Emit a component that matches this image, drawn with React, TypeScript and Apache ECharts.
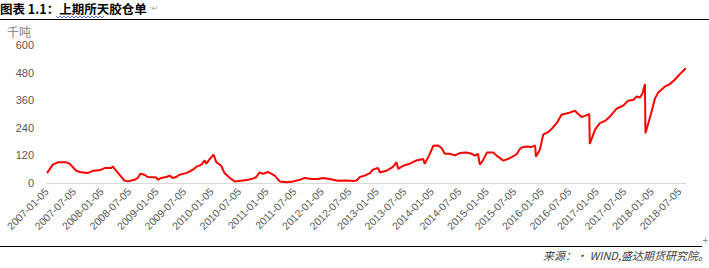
import React, { useEffect, useRef } from "react";
import * as echarts from "echarts";

const tickLabels = [
  "2007-01-05", "2007-07-05", "2008-01-05", "2008-07-05", "2009-01-05", "2009-07-05",
  "2010-01-05", "2010-07-05", "2011-01-05", "2011-07-05", "2012-01-05", "2012-07-05",
  "2013-01-05", "2013-07-05", "2014-01-05", "2014-07-05", "2015-01-05", "2015-07-05",
  "2016-01-05", "2016-07-05", "2017-01-05", "2017-07-05", "2018-01-05", "2018-07-05",
];

const yTicks = [0, 120, 240, 360, 480, 600];

// months elapsed since 2007-01-05
const monthOffsets = [
  0, 1.26, 2.36, 4.19, 4.92, 6.39, 7.12, 8.9, 10.0, 11.46, 12.56, 14.03, 14.34, 14.76, 15.81,
  16.86, 17.64, 19.11, 19.79, 20.36, 21.25, 21.99, 23.87, 24.18, 24.92, 26.02, 26.75, 27.43,
  28.16, 28.9, 30.36, 31.09, 31.83, 32.56, 33.71, 34.39, 34.76, 35.49, 36.33, 36.96, 38.0,
  38.74, 39.89, 40.94, 42.72, 43.87, 44.91, 45.65, 46.38, 47.11, 48.21, 49.68, 50.78, 52.24,
  53.71, 55.17, 56.22, 57.69, 59.15, 60.2, 61.66, 63.44, 65.33, 66.79, 67.53, 67.84, 68.26,
  69.31, 70.46, 71.09, 72.24, 72.61, 74.02, 75.48, 76.22, 76.64, 77.68, 79.15, 80.61, 82.08,
  82.39, 83.34, 84.28, 85.33, 86.06, 86.79, 87.84, 88.99, 90.04, 91.5, 92.65, 93.39, 94.01,
  94.43, 95.01, 96.0, 97.37, 98.1, 99.56, 100.98, 102.44, 103.12, 103.54, 104.59, 105.74,
  106.47, 106.68, 107.52, 108.25, 109.3, 110.14, 111.18, 112.23, 113.7, 115.16, 115.9, 116.63,
  117.36, 118.3, 118.41, 119.56, 120.61, 121.76, 122.8, 124.27, 125.74, 126.78, 127.94, 128.67,
  129.4, 129.93, 130.45, 130.55, 131.6, 132.65, 133.38, 134.85, 135.9, 136.94, 138.04, 139.35,
];

// 千吨
const warehouseReceipts = [
  43, 80, 90, 90, 84, 53, 48, 43, 53, 55, 65, 65, 72, 61, 36,
  11, 7, 14, 22, 40, 36, 26, 24, 14, 22, 26, 32, 22,
  26, 36, 43, 50, 58, 70, 80, 98, 84, 104, 123, 90, 75,
  43, 22, 7, 11, 14, 19, 26, 46, 40, 48, 32, 7, 3,
  7, 14, 22, 17, 17, 22, 17, 10, 11, 9, 11, 17, 26,
  32, 43, 58, 65, 46, 53, 70, 90, 61, 75, 84, 98, 104,
  84, 119, 162, 163, 152, 127, 127, 120, 130, 133, 127, 119, 127,
  80, 95, 133, 133, 119, 97, 108, 125, 147, 154, 159, 157,
  163, 115, 145, 210, 221, 236, 260, 297, 304, 314, 300, 287,
  292, 300, 170, 232, 260, 270, 289, 323, 337, 358, 362, 376,
  372, 391, 430, 216, 289, 368, 395, 420, 430, 449, 473, 499,
];

const titleText = "图表 1.1：上期所天胶仓单";
const paragraphMark = " ·↵";
const unitText = "千吨";
const sourceText = "来源：· WIND,盛达期货研究院。";

export default function App() {
  const ref = useRef<HTMLDivElement>(null);

  useEffect(() => {
    if (!ref.current) return;
    const chart = echarts.init(ref.current, null, { renderer: "svg" });
    const seriesData = monthOffsets.map((m, i) => [m, warehouseReceipts[i]]);
    const wave: number[][] = [];
    for (let x = 56; x <= 104; x += 2) wave.push([x, x % 4 === 0 ? 16 : 18]);

    chart.setOption({
      animation: false,
      backgroundColor: "#ffffff",
      grid: { left: 47, right: 23, top: 45, bottom: 85, containLabel: false },
      xAxis: {
        type: "value",
        min: 0,
        max: 139.4,
        interval: 6,
        axisLine: { show: true, lineStyle: { color: "#d9d9d9", width: 1 } },
        axisTick: { show: false },
        splitLine: { show: false },
        axisLabel: {
          rotate: 45,
          margin: 7,
          color: "#595959",
          fontFamily: "Liberation Sans",
          fontSize: 10.5,
          showMaxLabel: false,
          formatter: (v: number) => {
            const idx = Math.round(v / 6);
            return Math.abs(idx * 6 - v) < 1e-6 && tickLabels[idx] ? tickLabels[idx] : "";
          },
        },
      },
      yAxis: {
        type: "value",
        min: yTicks[0],
        max: yTicks[yTicks.length - 1],
        interval: yTicks[1] - yTicks[0],
        axisLine: { show: false },
        axisTick: { show: false },
        splitLine: { show: false },
        axisLabel: {
          margin: 13,
          color: "#595959",
          fontFamily: "Liberation Sans",
          fontSize: 11,
        },
      },
      series: [
        {
          type: "line",
          data: seriesData,
          showSymbol: false,
          symbol: "none",
          lineStyle: { color: "#ff0000", width: 2 },
          itemStyle: { color: "#ff0000" },
        },
      ],
      graphic: [
        {
          type: "text",
          left: 0,
          top: 2,
          style: {
            text: "{t|" + titleText + "}{m|" + paragraphMark + "}",
            rich: {
              t: {
                fontFamily: "Noto Sans CJK SC",
                fontWeight: "bold",
                fontSize: 12.5,
                fill: "#000000",
                color: "#000000",
              },
              m: {
                fontFamily: "DejaVu Sans",
                fontSize: 8,
                fill: "#a0a0a0",
                color: "#a0a0a0",
              },
            },
          },
        },
        {
          type: "polyline",
          shape: { points: wave },
          style: { stroke: "#3050d0", lineWidth: 0.8, fill: null },
        },
        {
          type: "line",
          shape: { x1: 0, y1: 19.5, x2: 709, y2: 19.5 },
          style: { stroke: "#000000", lineWidth: 1 },
        },
        {
          type: "text",
          left: 7,
          top: 25,
          style: { text: unitText, fontFamily: "Noto Sans CJK SC", fontSize: 12, fill: "#808080" },
        },
        {
          type: "line",
          shape: { x1: 0, y1: 246.5, x2: 702, y2: 246.5 },
          style: { stroke: "#000000", lineWidth: 1 },
        },
        {
          type: "text",
          left: 702,
          top: 236,
          style: { text: "+", fontSize: 8, fill: "#808080", fontFamily: "DejaVu Sans" },
        },
        {
          type: "text",
          right: 0,
          top: 249,
          style: {
            text: sourceText,
            fontFamily: "Noto Sans CJK SC",
            fontStyle: "italic",
            fontSize: 11,
            fill: "#404040",
          },
        },
      ],
    });

    return () => chart.dispose();
  }, []);

  return (
    <div
      style={{ position: "absolute", left: 0, top: 0, width: 709, height: 268, background: "#fff" }}
    >
      <div ref={ref} style={{ width: 709, height: 268 }} />
    </div>
  );
}
